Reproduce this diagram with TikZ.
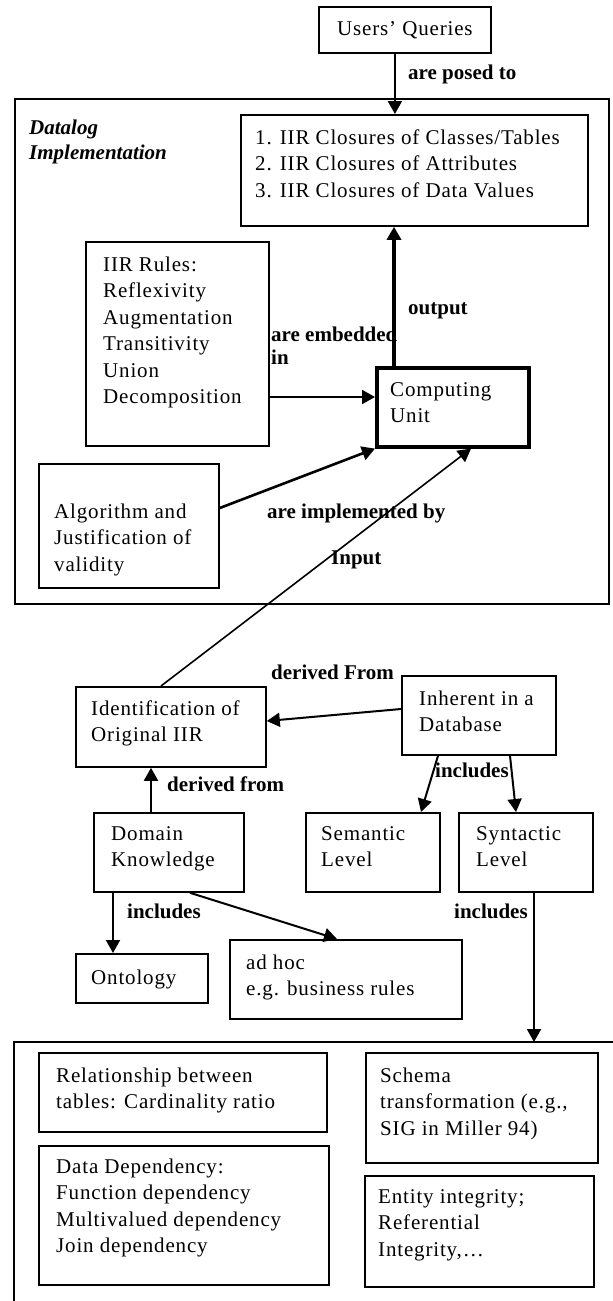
\documentclass[tikz,border=0pt]{standalone}
\usepackage{fontspec}
\setmainfont{Liberation Serif}[LetterSpace=4]
\newfontfamily\lblfont{Liberation Serif}
\usetikzlibrary{arrows.meta,calc}
\newcommand{\bodyfs}{\fontsize{21}{26.5}\selectfont}
\newcommand{\mlines}[1]{\begin{tabular}[t]{@{}l@{}}#1\end{tabular}}
\tikzset{
  box/.style={draw, line width=1.8pt, anchor=north west, inner sep=0pt},
  txt/.style={anchor=base west, inner sep=0pt, font=\bodyfs},
  lbl/.style={anchor=base west, inner sep=0pt, font=\lblfont\bfseries\fontsize{21}{23}\selectfont},
  conn/.style={line width=2pt, -{Triangle[length=13pt,width=14pt]}},
}
\begin{document}
\begin{tikzpicture}[x=1pt,y=-1pt]
\useasboundingbox (0,0) rectangle (613,1301);
% containers
\node[box, minimum width=594pt, minimum height=505pt] (datalog) at (14,98) {};
\node[anchor=base west, inner sep=0pt, font=\lblfont\bfseries\itshape\fontsize{21}{25}\selectfont] (datalogT) at (29,134) {\mlines{Datalog\\Implementation}};
\draw[line width=1.8pt] (614,1042) -- (14,1042) -- (14,1302);
\coordinate (botTop) at (534,1042);
% boxes
\node[box, minimum width=172pt, minimum height=46pt, font=\bodyfs] (users) at (318,6) {Users’ Queries};
\node[box, minimum width=347pt, minimum height=111pt] (clos) at (240,114) {};
\node[txt] (closT) at (255,144) {\mlines{1. IIR Closures of Classes/Tables\\2. IIR Closures of Attributes\\3. IIR Closures of Data Values}};
\node[box, minimum width=183pt, minimum height=204pt] (rules) at (85,241) {};
\node[txt] (rulesT) at (103,271) {\mlines{IIR Rules:\\Reflexivity\\Augmentation\\Transitivity\\Union\\Decomposition}};
\node[box, line width=3.6pt, minimum width=152pt, minimum height=79pt] (cu) at (375,366) {};
\node[txt] (cuT) at (390,396) {\mlines{Computing\\Unit}};
\node[box, minimum width=180pt, minimum height=124pt] (alg) at (38,463) {};
\node[txt] (algT) at (54,518) {\mlines{Algorithm and\\Justification of\\validity}};
\node[box, minimum width=190pt, minimum height=80pt] (ident) at (75,686) {};
\node[txt] (identT) at (91,715) {\mlines{Identification of\\Original IIR}};
\node[box, minimum width=154pt, minimum height=79pt] (inh) at (401,675) {};
\node[txt] (inhT) at (419,705) {\mlines{Inherent in a\\Database}};
\node[box, minimum width=150pt, minimum height=79pt] (dom) at (93,812) {};
\node[txt] (domT) at (111,840) {\mlines{Domain\\Knowledge}};
\node[box, minimum width=134pt, minimum height=79pt] (sem) at (305,812) {};
\node[txt] (semT) at (321,840) {\mlines{Semantic\\Level}};
\node[box, minimum width=134pt, minimum height=79pt] (syn) at (458,812) {};
\node[txt] (synT) at (476,840) {\mlines{Syntactic\\Level}};
\node[box, minimum width=132pt, minimum height=49pt] (onto) at (75,953) {};
\node[txt] (ontoT) at (91,984) {Ontology};
\node[box, minimum width=232pt, minimum height=79pt] (adhoc) at (229,939) {};
\node[txt] (adhocT) at (246,969) {\mlines{ad hoc\\e.g. business rules}};
\node[box, minimum width=288pt, minimum height=79pt] (rel) at (38,1052) {};
\node[txt] (relT) at (56,1082) {\mlines{Relationship between\\tables: Cardinality ratio}};
\node[box, minimum width=290pt, minimum height=139pt] (dd) at (38,1145) {};
\node[txt] (ddT) at (56,1173) {\mlines{Data Dependency:\\Function dependency\\Multivalued dependency\\Join dependency}};
\node[box, minimum width=232pt, minimum height=110pt] (schema) at (365,1052) {};
\node[txt] (schemaT) at (380,1082) {\mlines{Schema\\transformation (e.g.,\\SIG in Miller 94)}};
\node[box, minimum width=229pt, minimum height=111pt] (ent) at (364,1175) {};
\node[txt] (entT) at (378,1203) {\mlines{Entity integrity;\\Referential\\Integrity,\dots}};
% connectors
\draw[conn] ([xshift=-10pt]users.south) -- ([xshift=-10pt]users.south |- clos.north);
\draw[conn, line width=3.6pt] ([xshift=19pt]cu.north west) -- ([xshift=19pt]cu.north west |- clos.south);
\draw[conn] ([yshift=-156pt]rules.north east) -- ([yshift=-156pt]rules.north east -| cu.west);
\draw[conn, line width=2.6pt] ([yshift=-45pt]alg.north east) -- (cu.south west);
\draw[conn, line width=1.6pt] ([xshift=86pt]ident.north west) -- ([xshift=96pt]cu.south west);
\draw[conn] ([yshift=-34pt]inh.north west) -- ([yshift=-35pt]ident.north east);
\draw[conn] ([xshift=58pt]dom.north west) -- ([xshift=58pt]dom.north west |- ident.south);
\draw[conn] ([xshift=37pt]inh.south west) -- ([xshift=116pt]sem.north west);
\draw[conn] ([xshift=109pt]inh.south west) -- ([xshift=58pt]syn.north west);
\draw[conn] ([xshift=20pt]dom.south west) -- ([xshift=20pt]dom.south west |- onto.north);
\draw[conn] ([xshift=97pt]dom.south west) -- ([xshift=108pt]adhoc.north west);
\draw[conn] ([xshift=76pt]syn.south west) -- (botTop);
% labels
\node[lbl] (l1) at (408,79) {are posed to};
\node[lbl] (l2) at (408,314) {output};
\node[lbl] (l3) at (271,341) {\begin{tabular}[t]{@{}l@{}}are embedded\\in\end{tabular}};
\node[lbl] (l4) at (267,518) {are implemented by};
\node[lbl] (l5) at (331,564) {Input};
\node[lbl] (l6) at (271,679) {derived From};
\node[lbl] (l7) at (167,791) {derived from};
\node[lbl] (l8) at (435,777) {includes};
\node[lbl] (l9) at (127,918) {includes};
\node[lbl] (l10) at (454,918) {includes};
\end{tikzpicture}
\end{document}
